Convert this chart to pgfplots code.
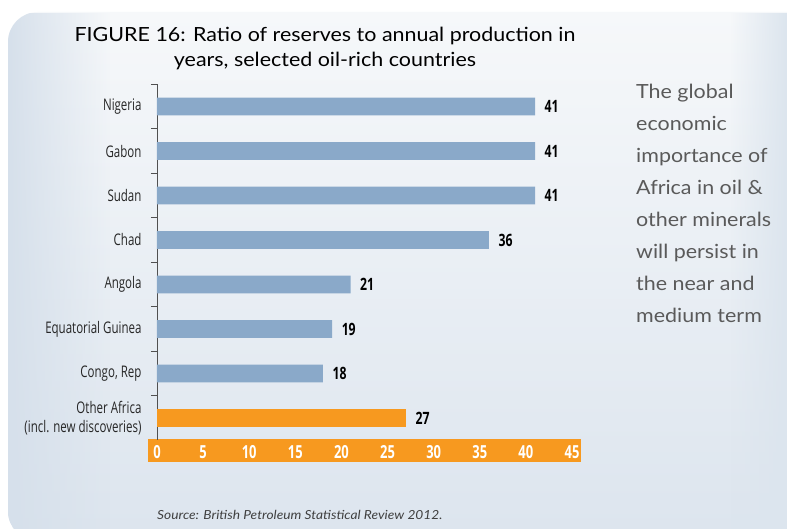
\documentclass[border=0pt]{standalone}
\usepackage{pgfplots}
\pgfplotsset{compat=1.18}
\usepackage{fontspec}
\setmainfont[FakeStretch=1.1]{Lato}
\newfontfamily\cond[FakeStretch=0.72]{Open Sans}
\usetikzlibrary{fadings}
\definecolor{barblue}{HTML}{8AA9C9}
\definecolor{barorange}{HTML}{F7991F}
\definecolor{panelblue}{HTML}{D6E0EB}
\definecolor{paneltop}{HTML}{F6F8FA}
\definecolor{sidegray}{HTML}{5A5A5A}
\definecolor{axisgray}{HTML}{505050}
\begin{document}
\begin{tikzpicture}
\useasboundingbox (0pt,0pt) rectangle (787pt,529pt);
\fill[white] (0pt,0pt) rectangle (787pt,529pt);
\begin{scope}
\clip[rounded corners=30pt] (8pt,-12pt) rectangle (840pt,517pt);
\shade[top color=paneltop, bottom color=panelblue!85!white] (0pt,-12pt) rectangle (840pt,517pt);
\fill[panelblue, path fading=east] (8pt,-12pt) rectangle (110pt,517pt);
\fill[panelblue!85!white, path fading=west] (730pt,-12pt) rectangle (787pt,517pt);
\end{scope}
\fill[barorange] (148pt,67pt) rectangle (581pt,90pt);
\node[anchor=base, font=\fontsize{19.5}{22}\selectfont] at (325pt,487.5pt) {FIGURE 16: Ratio of reserves to annual production in};
\node[anchor=base, font=\fontsize{19.5}{22}\selectfont] at (325pt,462.5pt) {years, selected oil-rich countries};
\foreach \t [count=\i from 0] in {The global,economic,importance of,Africa in oil \&,other minerals,will persist in,the near and,medium term}
  \node[anchor=base west, inner sep=0, text=sidegray, font=\fontsize{19.5}{22}\selectfont] at (636pt,430.7pt-32pt*\i) {\t};
\node[anchor=base west, inner sep=0, text=black!75, font=\itshape\fontsize{12.5}{14}\selectfont] at (157pt,9pt) {Source: British Petroleum Statistical Review 2012.};
\begin{axis}[
 at={(157pt,88.75pt)}, anchor=south west,
 scale only axis, width=415pt, height=356pt,
 xmin=0, xmax=45, ymin=-0.5, ymax=7.5, y dir=reverse,
 clip=false,
 /pgf/number format/assume math mode=true,
 axis x line*=bottom, axis y line*=left,
 x axis line style={draw=none},
 y axis line style={draw=axisgray, line width=0.8pt},
 xtick={0,5,...,45},
 xtick style={draw=none},
 xticklabel style={anchor=center, yshift=-11.5pt, text=white, font=\cond\bfseries\fontsize{18}{18}\selectfont},
 ytick={0,...,7},
 yticklabels={Nigeria,Gabon,Sudan,Chad,Angola,Equatorial Guinea,{Congo, Rep},{Other Africa\\(incl. new discoveries)}},
 yticklabel style={align=right, xshift=-12pt, text=black!85, font=\cond\fontsize{16}{18.5}\selectfont},
 major tick length=0pt,
 minor ytick={-0.5,0.5,...,6.5},
 minor tick length=6pt,
 tick align=outside,
 minor tick style={draw=axisgray, line width=0.8pt},
 xbar, bar width=17.6pt, bar shift=0pt,
 nodes near coords,
 nodes near coords style={font=\cond\bfseries\fontsize{17}{17}\selectfont, text=black, xshift=6pt, anchor=west},
]
\addplot[fill=barblue, draw=none] coordinates {(41,0) (41,1) (41,2) (36,3) (21,4) (19,5) (18,6)};
\addplot[fill=barorange, draw=none] coordinates {(27,7)};
\end{axis}
\end{tikzpicture}
\end{document}
